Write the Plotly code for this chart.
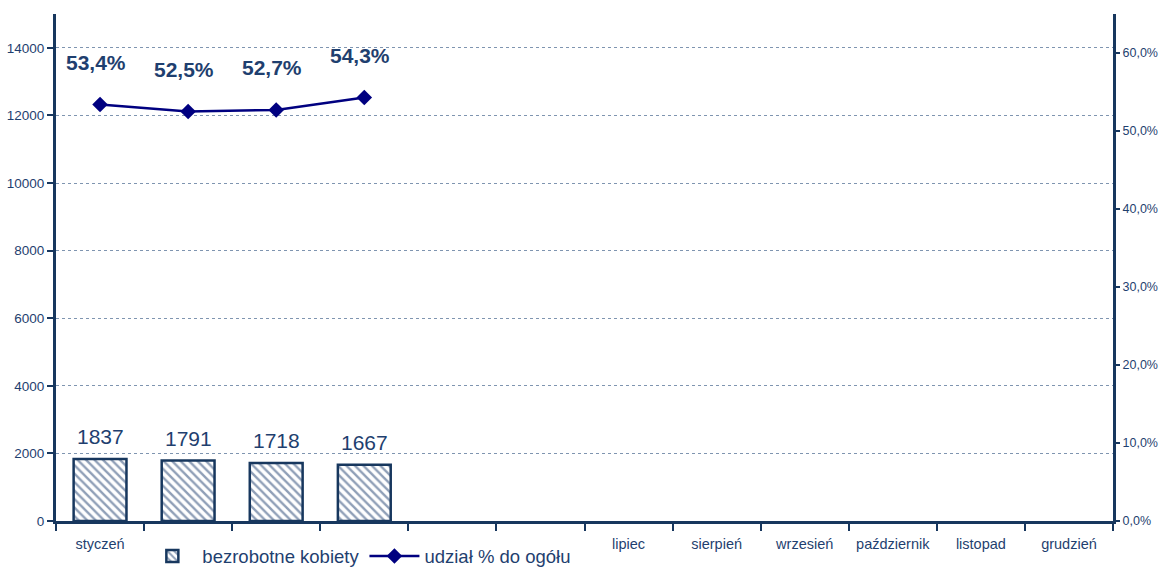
import plotly.graph_objects as go

months = ["styczeń", "luty", "marzec", "kwiecień", "maj", "czerwiec", "lipiec",
          "sierpień", "wrzesień", "październik", "listopad", "grudzień"]
women = [1837, 1791, 1718, 1667, None, None, None, None, None, None, None, None]
share = [0.534, 0.525, 0.527, 0.543, None, None, None, None, None, None, None, None]

navy = "#17375E"
txt = "#1F3F6F"

fig = go.Figure()
fig.add_trace(go.Bar(
    x=months, y=women, name="bezrobotne kobiety",
    width=0.6,
    marker=dict(color="white", line=dict(color=navy, width=2.5),
                pattern=dict(shape="\\", fgcolor="#1F3F6F", bgcolor="white",
                             size=6, solidity=0.4)),
))
fig.add_trace(go.Scatter(
    x=months, y=share, name="udział % do ogółu", yaxis="y2",
    mode="lines+markers",
    line=dict(color="#000080", width=2.5),
    marker=dict(symbol="diamond", size=12, color="#000080"),
))

for m, v in zip(months, women):
    if v is not None:
        fig.add_annotation(x=m, y=v, yref="y", text=str(v), showarrow=False,
                           yshift=22, font=dict(size=21, color=txt))

for m, v in zip(months, share):
    if v is not None:
        fig.add_annotation(x=m, y=v, yref="y2", text=f"<b>{v*100:.1f}%</b>".replace(".", ","),
                           showarrow=False, xshift=-4, yshift=42, font=dict(size=21, color=txt))

fig.update_layout(
    width=1164, height=567,
    margin=dict(l=56, r=51, t=14, b=46, autoexpand=False),
    plot_bgcolor="white", paper_bgcolor="white",
    font=dict(family="Liberation Sans, Arial, sans-serif", color=txt, size=13),
    separators=", ",
    showlegend=True,
    legend=dict(orientation="h", x=0.287, xanchor="center", y=-0.07, yanchor="middle",
                bgcolor="white", font=dict(size=18.5, color=txt),
                itemwidth=50, tracegroupgap=0),
    bargap=0.4,
    xaxis=dict(type="category", range=[-0.5, 11.5], showline=True, linecolor=navy, linewidth=3,
               ticks="outside", tickson="boundaries", ticklen=7, tickwidth=2,
               tickcolor=navy, tickfont=dict(size=14.5, color=txt), showgrid=False,
               ticklabelstandoff=8, automargin=False),
    yaxis=dict(range=[0, 15000], tickvals=[0, 2000, 4000, 6000, 8000, 10000, 12000, 14000],
               tickformat="d", showline=True, linecolor=navy, linewidth=3,
               ticks="outside", ticklen=6, tickwidth=2, tickcolor=navy,
               showgrid=True, gridcolor="#7F95B0", griddash="dot", gridwidth=1,
               zeroline=False, tickfont=dict(size=13.5, color=txt), automargin=False),
    yaxis2=dict(range=[0, 0.65], tickvals=[0, 0.1, 0.2, 0.3, 0.4, 0.5, 0.6],
                tickformat=".1%", overlaying="y", side="right",
                showline=True, linecolor=navy, linewidth=3,
                ticks="outside", ticklen=4, tickwidth=2, tickcolor=navy,
                showgrid=False, zeroline=False, tickfont=dict(size=12.5, color=txt),
                automargin=False),
)

fig.write_html("out.html", config={"displayModeBar": False},
               post_script="document.body.style.margin='0';document.body.style.overflow='hidden';")
